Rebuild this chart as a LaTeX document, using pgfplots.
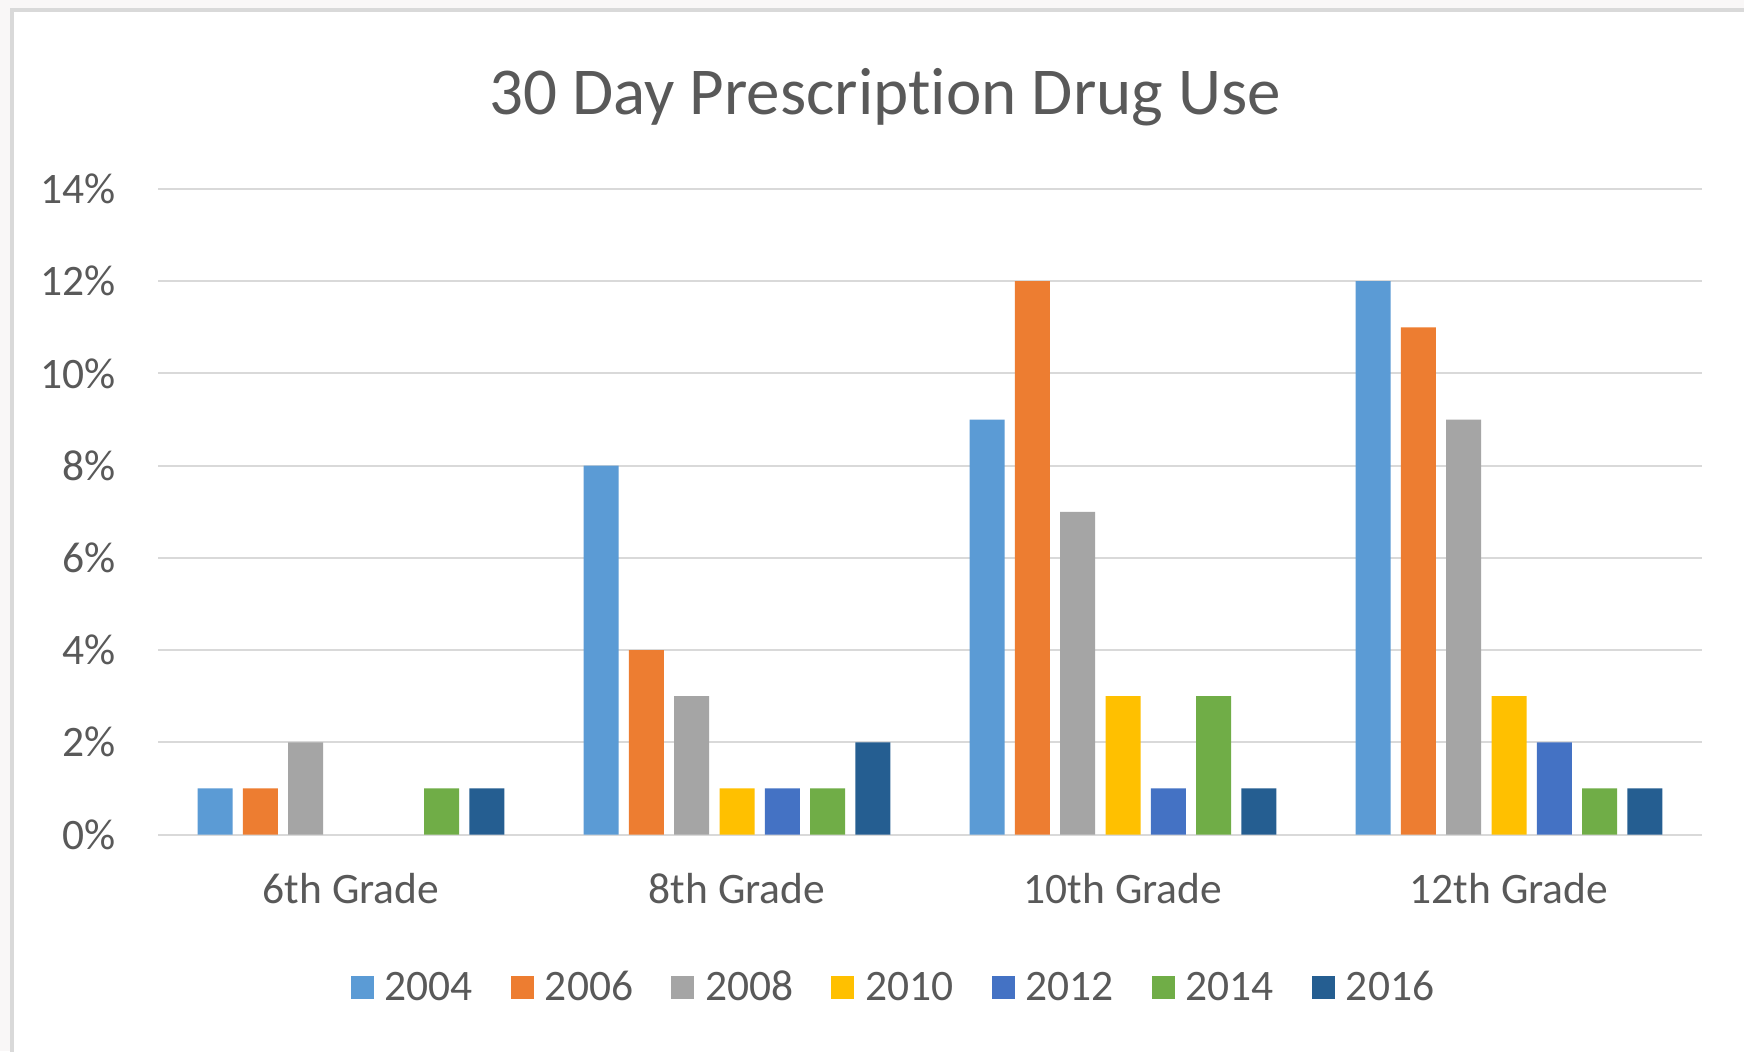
\documentclass[border=0pt]{standalone}
\usepackage{fontspec}
\setmainfont{Carlito}[Ligatures={NoCommon,NoRare,NoContextual}]
\usepackage{pgfplots}
\pgfplotsset{compat=1.18}
\definecolor{c2004}{HTML}{5B9BD5}
\definecolor{c2006}{HTML}{ED7D31}
\definecolor{c2008}{HTML}{A5A5A5}
\definecolor{c2010}{HTML}{FFC000}
\definecolor{c2012}{HTML}{4472C4}
\definecolor{c2014}{HTML}{70AD47}
\definecolor{c2016}{HTML}{255E91}
\definecolor{txt}{HTML}{595959}
\definecolor{grid}{HTML}{D9D9D9}
\definecolor{outer}{HTML}{F9F7F7}
\begin{document}
\begin{tikzpicture}
\useasboundingbox (0pt,0pt) rectangle (697.6pt,420.4pt);
\fill[outer] (0pt,0pt) rectangle (697.6pt,420.4pt);
\draw[grid, line width=1.6pt, fill=white] (4.8pt,-10pt) rectangle (710pt,416.4pt);
\node[anchor=base, text=txt, font=\fontsize{26.8pt}{30pt}\selectfont] at (354pt,374.4pt) {30 Day Prescription Drug Use};
\begin{axis}[
  at={(63.2pt,86.6pt)}, anchor=south west,
  width=617.6pt, height=258.2pt, scale only axis,
  ybar=4.12pt, bar width=14pt,
  xmin=-0.5, xmax=3.5, ymin=0, ymax=14,
  xtick={0,1,2,3},
  xticklabels={6th Grade,8th Grade,10th Grade,12th Grade},
  ytick={0,2,4,6,8,10,12,14},
  yticklabel={\pgfmathprintnumber{\tick}\%},
  /pgf/number format/assume math mode=true,
  ymajorgrids,
  major grid style={draw=grid, line width=0.8pt},
  axis line style={draw=none},
  major tick length=0pt,
  tick style={draw=none},
  ticklabel style={text=txt, font=\fontsize{17.4pt}{20pt}\selectfont},
  yticklabel style={anchor=east, inner sep=0pt, xshift=-16.8pt},
  xticklabel style={anchor=base, inner sep=0pt, yshift=-27.7pt},
  legend columns=7,
  legend style={at={(0.4757,-0.2375)}, anchor=center, draw=none, fill=none,
    font=\fontsize{17.4pt}{20pt}\selectfont, text=txt,
    nodes={inner sep=0pt},
    /tikz/every odd column/.append style={column sep=4.4pt},
    /tikz/every even column/.append style={column sep=15.2pt}},
  legend image code/.code={\fill[#1] (0pt,-4.6pt) rectangle (9.2pt,4.6pt);},
]
\addplot[fill=c2004, draw=none] coordinates {(0,1) (1,8) (2,9) (3,12)};
\addplot[fill=c2006, draw=none] coordinates {(0,1) (1,4) (2,12) (3,11)};
\addplot[fill=c2008, draw=none] coordinates {(0,2) (1,3) (2,7) (3,9)};
\addplot[fill=c2010, draw=none] coordinates {(1,1) (2,3) (3,3)};
\addplot[fill=c2012, draw=none] coordinates {(1,1) (2,1) (3,2)};
\addplot[fill=c2014, draw=none] coordinates {(0,1) (1,1) (2,3) (3,1)};
\addplot[fill=c2016, draw=none] coordinates {(0,1) (1,2) (2,1) (3,1)};
\legend{2004,2006,2008,2010,2012,2014,2016}
\end{axis}
\end{tikzpicture}
\end{document}
